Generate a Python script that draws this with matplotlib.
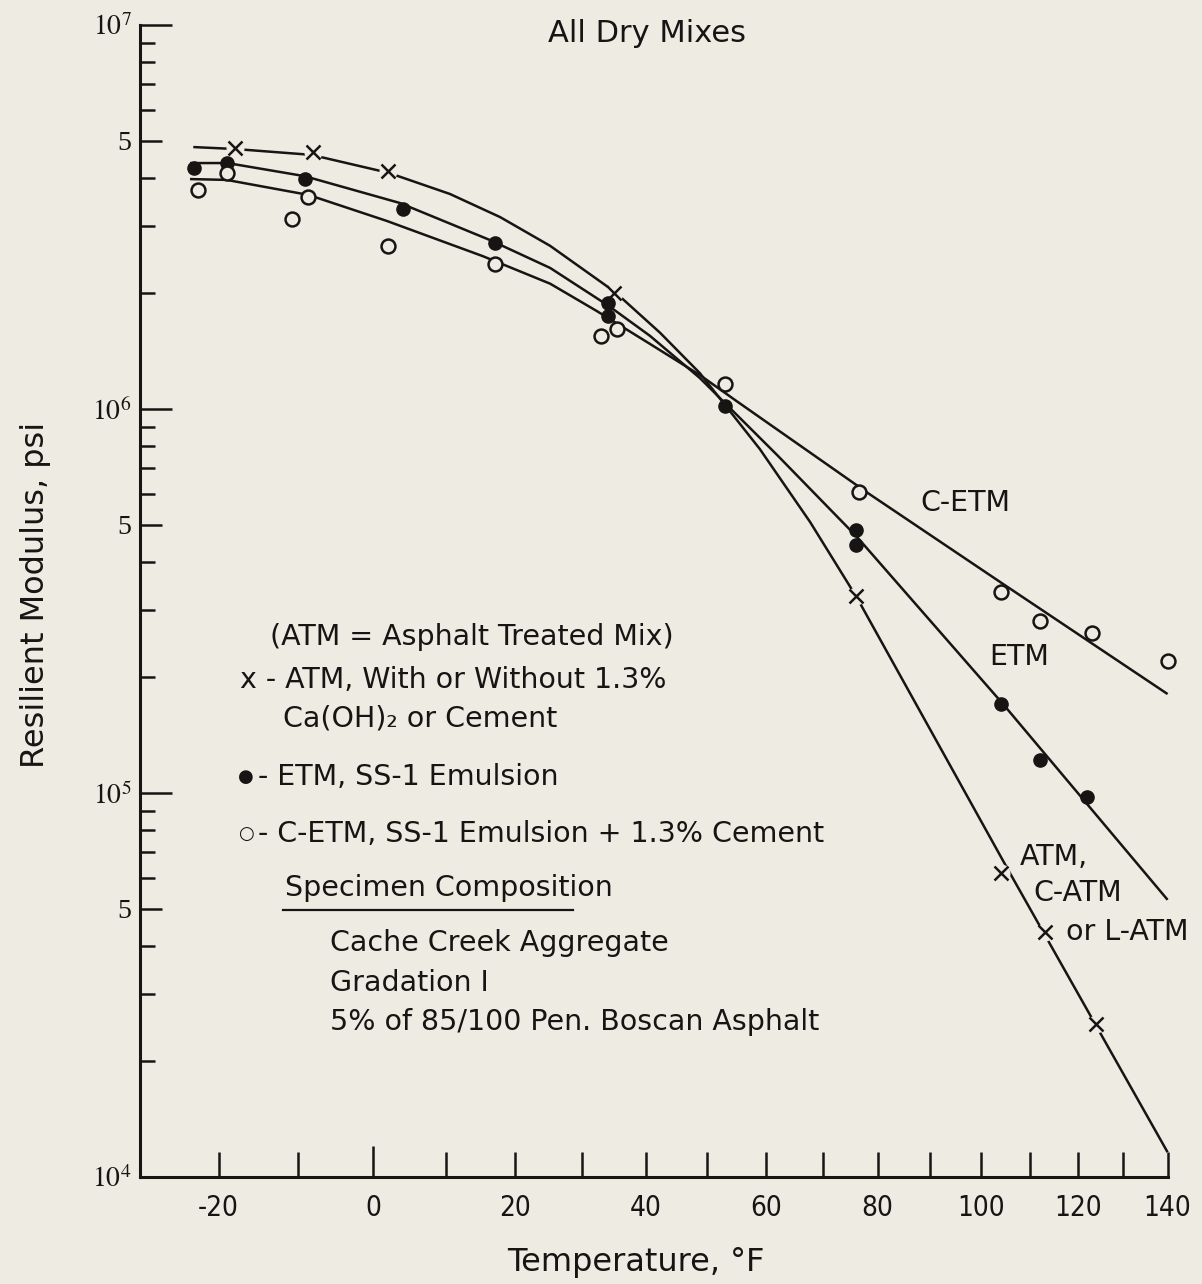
import numpy as np
import matplotlib
matplotlib.use("Agg")
import matplotlib.pyplot as plt
from matplotlib.ticker import FixedLocator, FixedFormatter, NullFormatter
from matplotlib.lines import Line2D

# ---- measured resilient modulus (psi) versus temperature (deg F) ----
atm_temp = [-18, -8, 2, 35, 76, 104, 113, 124]
atm_mod = [4.77e6, 4.68e6, 4.17e6, 2.01e6, 3.25e5, 6.18e4, 4.35e4, 2.51e4]

etm_temp = [-23, -19, -9, 4, 17, 34, 34, 53, 76, 76, 104, 112, 122]
etm_mod = [4.25e6, 4.38e6, 3.96e6, 3.31e6, 2.70e6, 1.89e6, 1.75e6, 1.02e6,
           4.84e5, 4.42e5, 1.71e5, 1.22e5, 9.76e4]

cetm_temp = [-22.5, -19, -10.7, -8.6, 2, 17, 33, 35.5, 53, 76.5, 104, 112, 123, 140]
cetm_mod = [3.72e6, 4.12e6, 3.12e6, 3.56e6, 2.65e6, 2.39e6, 1.55e6, 1.62e6,
            1.16e6, 6.09e5, 3.34e5, 2.81e5, 2.61e5, 2.21e5]

# ---- fitted curves ----
atm_curve_temp = [-23.1, -18.0, -8.2, 2.1, 10.6, 17.8, 25.2, 35.1, 42.3, 48.8,
                  58.9, 67.7, 76.2, 105.8, 140]
atm_curve_mod = [4.81e6, 4.755e6, 4.59e6, 4.12e6, 3.63e6, 3.16e6, 2.66e6, 2.02e6,
                 1.58e6, 1.24e6, 7.87e5, 5.08e5, 3.22e5, 6.19e4, 1.16e4]

etm_curve_temp = [-23.5, -18.9, -9.1, 3.6, 16.3, 25.2, 34.2, 40.7, 48.8, 52.8,
                  61.9, 76.2, 104.4, 140]
etm_curve_mod = [4.37e6, 4.37e6, 4.04e6, 3.44e6, 2.755e6, 2.33e6, 1.854e6, 1.55e6,
                 1.204e6, 1.043e6, 7.59e5, 4.64e5, 1.705e5, 5.27e4]

cetm_curve_temp = [-23.5, -19.0, -8.6, 1.8, 15.3, 25.2, 32.3, 40.7, 48.8, 54.7,
                   78.2, 103.8, 140]
cetm_curve_mod = [3.97e6, 3.95e6, 3.61e6, 3.09e6, 2.50e6, 2.12e6, 1.80e6, 1.477e6,
                  1.226e6, 1.055e6, 6.04e5, 3.545e5, 1.81e5]

# ---- axis ticks ----
x_major = [-20, 0, 20, 40, 60, 80, 100, 120, 140]
x_major_labels = ["-20", "0", "20", "40", "60", "80", "100", "120", "140"]
x_minor = [-10, 10, 30, 50, 70, 90, 110, 130]

y_major = [1e4, 5e4, 1e5, 5e5, 1e6, 5e6, 1e7]
y_major_labels = [r"$10^4$", "5", r"$10^5$", "5", r"$10^6$", "5", r"$10^7$"]
y_minor = [m * d for d in (1e4, 1e5, 1e6) for m in (2, 3, 4, 6, 7, 8, 9)]

BG = "#eeebe3"
INK = "#161513"

plt.rcParams["mathtext.fontset"] = "stix"
plt.rcParams["font.family"] = ["DejaVu Sans"]

W, H = 1202, 1284
fig = plt.figure(figsize=(W / 100, H / 100), dpi=100, facecolor=BG)
ax = fig.add_axes([140 / W, 1 - 1177 / H, (1167.6 - 140) / W, (1177 - 25) / H])
ax.set_facecolor(BG)


# reciprocal absolute temperature scale
def fwd(t):
    t = np.asarray(t, dtype=float)
    with np.errstate(divide="ignore", invalid="ignore"):
        return -1.0 / (t + 459.67)


def inv(u):
    u = np.asarray(u, dtype=float)
    with np.errstate(divide="ignore", invalid="ignore"):
        return -1.0 / u - 459.67


ax.set_xscale("function", functions=(fwd, inv))
ax.set_yscale("log")
ax.set_xlim(-29.5, 140)
ax.set_ylim(1e4, 1e7)

for s in ("top", "right"):
    ax.spines[s].set_visible(False)
for s in ("left", "bottom"):
    ax.spines[s].set_linewidth(2.2)
    ax.spines[s].set_color(INK)

ax.xaxis.set_major_locator(FixedLocator(x_major))
ax.xaxis.set_major_formatter(FixedFormatter(x_major_labels))
ax.xaxis.set_minor_locator(FixedLocator(x_minor))
ax.xaxis.set_minor_formatter(NullFormatter())
ax.yaxis.set_major_locator(FixedLocator(y_major))
ax.yaxis.set_major_formatter(FixedFormatter(y_major_labels))
ax.yaxis.set_minor_locator(FixedLocator(y_minor))
ax.yaxis.set_minor_formatter(NullFormatter())

ax.tick_params(axis="x", which="both", direction="in", length=18, width=1.8,
               color=INK, pad=12, labelsize=20, labelcolor=INK)
ax.tick_params(axis="y", which="major", direction="in", length=23, width=1.8,
               color=INK, pad=6, labelsize=20, labelcolor=INK)
ax.tick_params(axis="y", which="minor", direction="in", length=11, width=1.8,
               color=INK)

for lab in ax.get_xticklabels():
    lab.set_family(["DejaVu Sans"])
    lab.set_stretch("condensed")
for lab in ax.get_yticklabels():
    lab.set_family(["Liberation Serif", "DejaVu Serif"])

# longer tick at 0 F, mid-length ticks at the 5 x 10^n marks
for tk, v in zip(ax.xaxis.get_major_ticks(), x_major):
    if v == 0:
        tk.tick1line.set_markersize(22)
for tk, v in zip(ax.yaxis.get_major_ticks(), y_major):
    if str(v).startswith("5"):
        tk.tick1line.set_markersize(16)

# fitted curves
for tt, mm in ((atm_curve_temp, atm_curve_mod),
               (etm_curve_temp, etm_curve_mod),
               (cetm_curve_temp, cetm_curve_mod)):
    ax.plot(tt, mm, color=INK, lw=1.8, zorder=2, clip_on=False,
            solid_capstyle="butt", solid_joinstyle="round")

# data points
ax.plot(atm_temp, atm_mod, ls="none", marker="o", ms=13, mfc=BG, mec="none",
        zorder=3, clip_on=False)
ax.plot(atm_temp, atm_mod, ls="none", marker="x", ms=10.5, mew=1.8, color=INK,
        zorder=4, clip_on=False)
ax.plot(etm_temp, etm_mod, ls="none", marker="o", ms=9.5, mfc=INK, mec=INK,
        zorder=4, clip_on=False)
ax.plot(cetm_temp, cetm_mod, ls="none", marker="o", ms=10, mfc=BG, mec=INK,
        mew=1.8, zorder=4, clip_on=False)


def fx(px):
    return px / W


def fy(py):
    return 1 - py / H


fs = 20.5
tkw = dict(color=INK, fontsize=fs, va="center", ha="left")

fig.text(fx(647), fy(33), "All Dry Mixes", ha="center", va="center",
         fontsize=22, color=INK)
fig.text(fx(36), fy(595), "Resilient Modulus, psi", rotation=90,
         ha="center", va="center", fontsize=23, color=INK)
fig.text(fx(636), fy(1262), "Temperature, °F", ha="center", va="center",
         fontsize=23, color=INK)

fig.text(fx(270), fy(637), "(ATM = Asphalt Treated Mix)", **tkw)
fig.text(fx(240), fy(680), "x - ATM, With or Without 1.3%", **tkw)
fig.text(fx(283), fy(718), "Ca(OH)\u2082 or Cement", **tkw)
fig.text(fx(238), fy(777), "\u25CF", color=INK, fontsize=13, va="center", ha="left")
fig.text(fx(258), fy(777), "- ETM, SS-1 Emulsion", **tkw)
fig.text(fx(238), fy(834), "\u25CB", color=INK, fontsize=13, va="center", ha="left")
fig.text(fx(258), fy(834), "- C-ETM, SS-1 Emulsion + 1.3% Cement", **tkw)
fig.text(fx(285), fy(888), "Specimen Composition", **tkw)
fig.add_artist(Line2D([fx(283), fx(573)], [fy(910), fy(910)], color=INK, lw=1.6))
fig.text(fx(330), fy(943), "Cache Creek Aggregate", **tkw)
fig.text(fx(330), fy(983), "Gradation I", **tkw)
fig.text(fx(330), fy(1022), "5% of 85/100 Pen. Boscan Asphalt", **tkw)

fig.text(fx(965), fy(503), "C-ETM", color=INK, fontsize=fs, ha="center", va="center")
fig.text(fx(1019), fy(657), "ETM", color=INK, fontsize=fs, ha="center", va="center")
fig.text(fx(1020), fy(857), "ATM,", **tkw)
fig.text(fx(1033), fy(893), "C-ATM", **tkw)
fig.text(fx(1066), fy(932), "or L-ATM", **tkw)

fig.savefig("out.png", dpi=100, facecolor=BG)
